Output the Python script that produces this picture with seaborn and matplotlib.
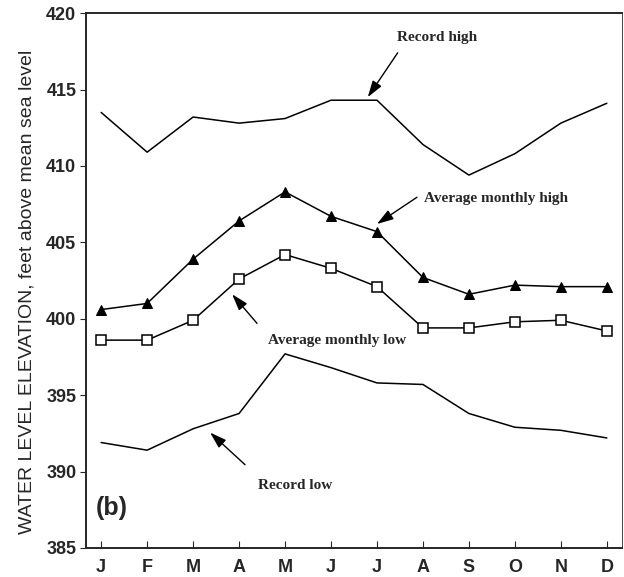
import numpy as np
import pandas as pd
import seaborn as sns
from matplotlib import pyplot as plt

months = ['J', 'F', 'M', 'A', 'M', 'J', 'J', 'A', 'S', 'O', 'N', 'D']
record_high = [413.5, 410.9, 413.2, 412.8, 413.1, 414.3, 414.3, 411.4, 409.4, 410.8, 412.8, 414.1]
avg_high = [400.6, 401.0, 403.9, 406.4, 408.3, 406.7, 405.7, 402.7, 401.6, 402.2, 402.1, 402.1]
avg_low = [398.6, 398.6, 399.9, 402.6, 404.2, 403.3, 402.1, 399.4, 399.4, 399.8, 399.9, 399.2]
record_low = [391.9, 391.4, 392.8, 393.8, 397.7, 396.8, 395.8, 395.7, 393.8, 392.9, 392.7, 392.2]
y_ticks = [385, 390, 395, 400, 405, 410, 415, 420]

sns.set_style('ticks')
plt.rcParams['font.family'] = ['Liberation Sans', 'DejaVu Sans']

df = pd.DataFrame({
    'month': np.arange(len(months)),
    'record_high': record_high,
    'avg_high': avg_high,
    'avg_low': avg_low,
    'record_low': record_low,
})

fig = plt.figure(figsize=(6.24, 5.77), dpi=100)
ax = fig.add_axes([0.1378, 0.0503, 0.859, 0.927])

sns.lineplot(data=df, x='month', y='record_high', ax=ax, color='k', lw=1.1)
sns.lineplot(data=df, x='month', y='record_low', ax=ax, color='k', lw=1.1)
sns.lineplot(data=df, x='month', y='avg_high', ax=ax, color='k', lw=1.1,
             marker='^', markersize=6.5, markerfacecolor='k', markeredgecolor='k')
sns.lineplot(data=df, x='month', y='avg_low', ax=ax, color='k', lw=1.1,
             marker='s', markersize=6.5, markerfacecolor='white',
             markeredgecolor='k', markeredgewidth=1.1)

ax.set_xlim(-0.33, 11.33)
ax.set_ylim(385, 420)
ax.set_xticks(np.arange(len(months)))
ax.set_xticklabels(months)
ax.set_yticks(y_ticks)
ax.tick_params(axis='x', direction='in', length=5, labelsize=13, pad=8)
ax.tick_params(axis='y', direction='out', length=4, labelsize=13, pad=3)
for lab in ax.get_xticklabels() + ax.get_yticklabels():
    lab.set_fontweight('bold')
for s in ax.spines.values():
    s.set_visible(True)
    s.set_linewidth(1.4)
ax.spines['right'].set_linewidth(0.6)

ax.set_xlabel('')
ax.set_ylabel('WATER LEVEL ELEVATION, feet above mean sea level', fontsize=14)
ax.yaxis.set_label_coords(-0.095, 0.478)

# barbed-looking heads: filled triangle on a thin shaft
arrow = dict(arrowstyle='-|>, head_length=1.0, head_width=0.32', color='k', lw=1.0,
             shrinkA=0, shrinkB=0)
serif = dict(family='Liberation Serif', fontweight='bold', fontsize=11)

ax.annotate('', xy=(5.8, 414.5), xytext=(6.45, 417.4), arrowprops=arrow)
ax.text(7.3, 418.4, 'Record high', ha='center', va='center', **serif)

ax.annotate('', xy=(6.0, 406.2), xytext=(6.87, 407.95), arrowprops=arrow)
ax.text(7.02, 407.85, 'Average monthly high', ha='left', va='center', **serif)

ax.annotate('', xy=(2.85, 401.6), xytext=(3.39, 399.7), arrowprops=arrow)
ax.text(3.63, 398.6, 'Average monthly low', ha='left', va='center', **serif)

ax.annotate('', xy=(2.37, 392.55), xytext=(3.13, 390.45), arrowprops=arrow)
ax.text(3.41, 389.1, 'Record low', ha='left', va='center', **serif)

ax.text(-0.12, 387.6, '(b)', fontsize=18, fontweight='bold', ha='left', va='center')

fig.savefig('out.png', dpi=100)
